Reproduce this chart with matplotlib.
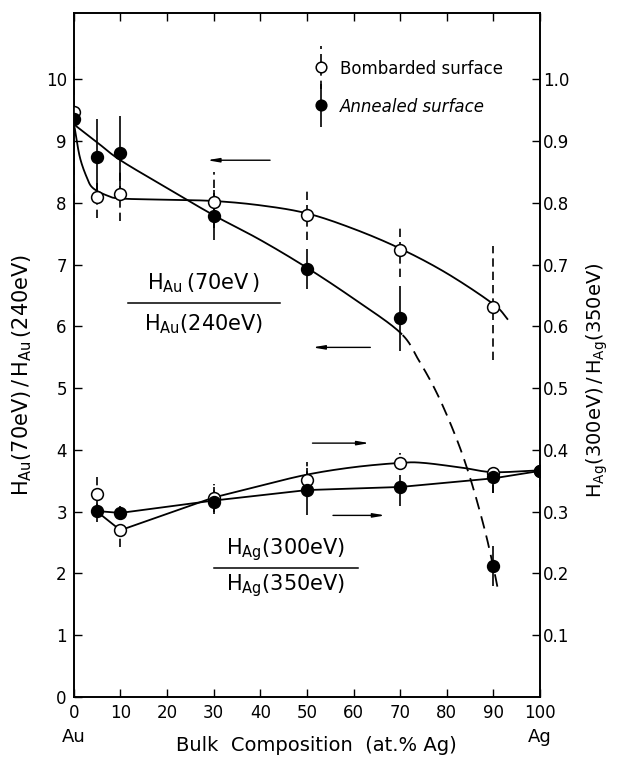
import numpy as np
import matplotlib.pyplot as plt
from matplotlib.legend_handler import HandlerErrorbar

plt.rcParams['font.family'] = ['DejaVu Sans']
plt.rcParams['mathtext.default'] = 'regular'

# measured points (upper pair on left axis, lower pair on right axis)
x_upper = [0, 5, 10, 30, 50, 70, 90]
bomb_upper = [9.47, 8.09, 8.15, 8.02, 7.80, 7.24, 6.31]
bomb_upper_lo = [7.8, 7.75, 7.7, 7.6, 7.4, 6.8, 5.45]
bomb_upper_hi = [10.2, 8.4, 8.5, 8.5, 8.2, 7.6, 7.3]
anneal_upper = [9.35, 8.74, 8.80, 7.78, 6.93, 6.13, 2.12]
anneal_upper_lo = [9.35, 8.1, 8.2, 7.4, 6.6, 5.6, 1.8]
anneal_upper_hi = [9.35, 9.35, 9.4, 8.2, 7.25, 6.65, 2.45]

x_lower = [5, 10, 30, 50, 70, 90, 100]
bomb_lower = [0.328, 0.270, 0.322, 0.351, 0.379, 0.362, 0.366]
bomb_lower_lo = [0.30, 0.243, 0.30, 0.33, 0.37, 0.33, 0.34]
bomb_lower_hi = [0.364, 0.28, 0.345, 0.38, 0.395, 0.37, 0.39]
anneal_lower = [0.301, 0.298, 0.316, 0.335, 0.340, 0.356, 0.366]
anneal_lower_lo = [0.283, 0.29, 0.297, 0.295, 0.31, 0.33, 0.34]
anneal_lower_hi = [0.32, 0.31, 0.34, 0.37, 0.36, 0.37, 0.37]

# hand-drawn guide curves
bomb_upper_cx = [0.2, 1.3, 2.8, 4.1, 7.1, 10, 20, 30, 40, 50, 60, 70, 80, 90, 93]
bomb_upper_cy = [9.21, 8.74, 8.41, 8.24, 8.12, 8.07, 8.05, 8.03, 7.96, 7.83, 7.58, 7.26, 6.86, 6.36, 6.12]
anneal_upper_cx = [0.2, 5, 10, 20, 30, 40, 50, 60, 70, 74, 78, 82, 85, 88, 90, 91]
anneal_upper_cy = [9.26, 8.98, 8.69, 8.24, 7.8, 7.4, 6.95, 6.45, 5.9, 5.45, 4.9, 4.2, 3.55, 2.75, 2.1, 1.73]
anneal_solid_end = 70.3
bomb_lower_lin_x = [5.5, 10, 30]
bomb_lower_lin_y = [0.297, 0.270, 0.323]
bomb_lower_cx = [30, 40, 50, 60, 70, 75, 83.5, 90, 100]
bomb_lower_cy = [0.323, 0.342, 0.360, 0.372, 0.379, 0.379, 0.371, 0.364, 0.367]
anneal_lower_cx = [5, 10, 30, 50, 70, 90, 100]
anneal_lower_cy = [0.301, 0.298, 0.318, 0.335, 0.340, 0.354, 0.366]


def smooth(xs, ys, n=25):
    pts = np.column_stack([xs, ys]).astype(float)
    p = np.vstack([2 * pts[0] - pts[1], pts, 2 * pts[-1] - pts[-2]])
    t = np.linspace(0, 1, n)[:, None]
    segs = []
    for i in range(1, len(p) - 2):
        p0, p1, p2, p3 = p[i - 1], p[i], p[i + 1], p[i + 2]
        segs.append(0.5 * (2 * p1 + (-p0 + p2) * t + (2 * p0 - 5 * p1 + 4 * p2 - p3) * t ** 2
                           + (-p0 + 3 * p1 - 3 * p2 + p3) * t ** 3))
    s = np.vstack(segs)
    return s[:, 0], s[:, 1]


fig = plt.figure(figsize=(6.2, 7.64), dpi=100)
ax = fig.add_axes([0.119, 0.0877, 0.752, 0.895])
ax2 = ax.twinx()

ax.set_xlim(0, 100)
ax.set_ylim(0, 11.07)
ax2.set_ylim(0, 1.107)

lw = 1.3
# curves
ax.plot(*smooth(bomb_upper_cx, bomb_upper_cy), color='black', lw=lw, zorder=2)
ax_x, ax_y = smooth(anneal_upper_cx, anneal_upper_cy)
solid = ax_x <= anneal_solid_end
ax.plot(ax_x[solid], ax_y[solid], color='black', lw=lw, zorder=2)
ax.plot(ax_x[~solid], ax_y[~solid], color='black', lw=lw, ls=(0, (7, 4)), zorder=2)
ax2.plot(bomb_lower_lin_x, bomb_lower_lin_y, color='black', lw=lw, zorder=2)
ax2.plot(*smooth(bomb_lower_cx, bomb_lower_cy), color='black', lw=lw, zorder=2)
ax2.plot(anneal_lower_cx, anneal_lower_cy, color='black', lw=lw, zorder=2)


def draw(axis, xs, ys, lo, hi, filled):
    yerr = [np.array(ys) - np.array(lo), np.array(hi) - np.array(ys)]
    eb = axis.errorbar(xs, ys, yerr=yerr, fmt='o', ms=8.5, mec='black', mew=1.1,
                       mfc='black' if filled else 'white', ecolor='black',
                       elinewidth=1.2, capsize=0, zorder=3)
    if not filled:
        eb[2][0].set_linestyle((0, (5, 3)))
    return eb


h_bomb = draw(ax, x_upper, bomb_upper, bomb_upper_lo, bomb_upper_hi, False)
h_ann = draw(ax, x_upper, anneal_upper, anneal_upper_lo, anneal_upper_hi, True)
draw(ax2, x_lower, bomb_lower, bomb_lower_lo, bomb_lower_hi, False)
draw(ax2, x_lower, anneal_lower, anneal_lower_lo, anneal_lower_hi, True)

# arrows pointing at the relevant axis
aprops = dict(arrowstyle='-|>,head_width=0.12,head_length=0.7', color='black', lw=1.0)
ax.annotate('', xy=(28, 8.69), xytext=(42.7, 8.69), arrowprops=aprops)
ax.annotate('', xy=(50.6, 5.66), xytext=(64.2, 5.66), arrowprops=aprops)
ax2.annotate('', xy=(64, 0.411), xytext=(50.6, 0.411), arrowprops=aprops)
ax2.annotate('', xy=(67.4, 0.294), xytext=(55, 0.294), arrowprops=aprops)

# fraction labels
fs = 15
ax.text(27.9, 6.70, r'$H_{Au}\,(70eV\,)$', ha='center', va='center', fontsize=fs)
ax.plot([11.6, 44.2], [6.38, 6.38], color='black', lw=1.1)
ax.text(27.9, 6.03, r'$H_{Au}(240eV)$', ha='center', va='center', fontsize=fs)
ax.text(45.5, 2.38, r'$H_{Ag}(300eV)$', ha='center', va='center', fontsize=fs)
ax.plot([30, 61], [2.09, 2.09], color='black', lw=1.1)
ax.text(45.5, 1.80, r'$H_{Ag}(350eV)$', ha='center', va='center', fontsize=fs)

# ticks
ax.set_xticks(range(0, 101, 10))
ax.set_yticks(range(0, 11))
ax2.set_yticks([0.1 * i for i in range(1, 11)])
ax2.set_yticklabels(['%.1f' % (0.1 * i) for i in range(1, 11)])
ax.tick_params(axis='both', direction='in', length=6, width=1, labelsize=12, top=True, pad=5)
ax2.tick_params(axis='y', direction='in', length=6, width=1, labelsize=12, pad=2)
for a in (ax, ax2):
    for s in a.spines.values():
        s.set_linewidth(1.2)

ax.text(0, -0.058, 'Au', transform=ax.transAxes, ha='center', va='center', fontsize=13)
ax.text(1, -0.058, 'Ag', transform=ax.transAxes, ha='center', va='center', fontsize=13)
fig.text(0.51, 0.024, 'Bulk  Composition  (at.% Ag)', ha='center', va='center', fontsize=14)
fig.text(0.036, 0.509, r'$H_{Au}(70eV)\,/\,H_{Au}\,(240eV)$', rotation=90,
         ha='center', va='center', fontsize=15)
fig.text(0.964, 0.503, r'$H_{Ag}(300eV)\,/\,H_{Ag}(350eV)$', rotation=90,
         ha='center', va='center', fontsize=14)

leg = ax.legend([h_bomb, h_ann], ['Bombarded surface', 'Annealed surface'],
                loc='upper left', bbox_to_anchor=(0.495, 0.944), frameon=False,
                borderpad=0, handlelength=1.0, handleheight=1.0, handletextpad=0.64,
                labelspacing=1.2, fontsize=12, markerscale=0.9,
                handler_map={type(h_bomb): HandlerErrorbar(yerr_size=1.3)})
leg.get_texts()[1].set_style('italic')

fig.savefig('out.png', dpi=100)
